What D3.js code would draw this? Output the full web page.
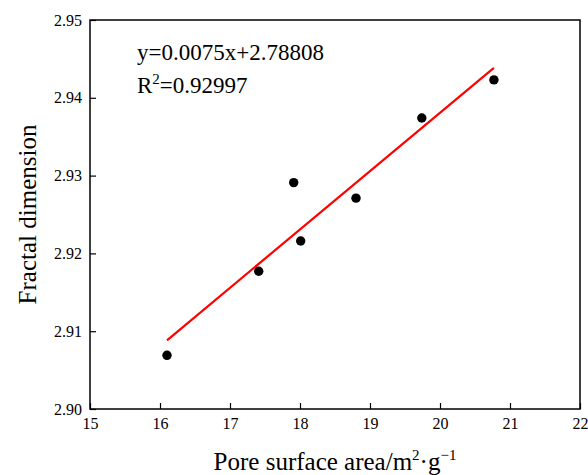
<!DOCTYPE html>
<html>
<head>
<meta charset="utf-8">
<script src="https://cdn.jsdelivr.net/npm/d3@7"></script>
<style>
  body { margin: 0; background: #fff; }
  text { font-family: "Liberation Serif", "Times New Roman", serif; fill: #000; }
</style>
</head>
<body>
<div id="chart"></div>
<script>
// data
const surfaceArea = [16.10, 17.41, 17.91, 18.01, 18.80, 19.74, 20.77];
const fractalDim = [2.9069, 2.9177, 2.9291, 2.9216, 2.9271, 2.9374, 2.9423];
const xTicks = [15, 16, 17, 18, 19, 20, 21, 22];
const yTicks = [2.90, 2.91, 2.92, 2.93, 2.94, 2.95];
const slope = 0.0075, intercept = 2.78808;

const W = 588, H = 475;
const margin = { top: 20, right: 8, bottom: 66, left: 90 },
  width = W - margin.left - margin.right,
  height = H - margin.top - margin.bottom;

const svg = d3.select("#chart").append("svg")
  .attr("width", W).attr("height", H);

const g = svg.append("g")
  .attr("transform", `translate(${margin.left},${margin.top})`);

const x = d3.scaleLinear().domain([15, 22]).range([0, width]);
const y = d3.scaleLinear().domain([2.90, 2.95]).range([height, 0]);

// axes, ticks pointing inward
const xAxis = g.append("g")
  .attr("transform", `translate(0,${height})`)
  .call(d3.axisBottom(x).tickValues(xTicks).tickSize(-6).tickPadding(9).tickFormat(d3.format("d")));
const yAxis = g.append("g")
  .call(d3.axisLeft(y).tickValues(yTicks).tickSize(-6).tickPadding(8).tickFormat(d3.format(".2f")));

[xAxis, yAxis].forEach(a => {
  a.attr("font-family", "Liberation Serif").attr("font-size", 16);
  a.select(".domain").remove();
  a.selectAll("line").attr("stroke", "#000").attr("stroke-width", 1.2);
  a.selectAll("text").attr("fill", "#000");
});

// frame
g.append("rect")
  .attr("width", width).attr("height", height)
  .attr("fill", "none").attr("stroke", "#000").attr("stroke-width", 1.5);

// fit line
const xs = d3.extent(surfaceArea);
g.append("line")
  .attr("x1", x(xs[0])).attr("y1", y(slope * xs[0] + intercept))
  .attr("x2", x(xs[1])).attr("y2", y(slope * xs[1] + intercept))
  .attr("stroke", "#ff0000").attr("stroke-width", 2.2);

// points
g.selectAll(".pt")
  .data(surfaceArea.map((d, i) => [d, fractalDim[i]]))
  .join("circle")
  .attr("class", "pt")
  .attr("cx", d => x(d[0]))
  .attr("cy", d => y(d[1]))
  .attr("r", 4.7)
  .attr("fill", "#000");

// equation
g.append("text").attr("x", 47).attr("y", 40).style("font-size", "23px")
  .text("y=0.0075x+2.78808");
const r2 = g.append("text").attr("x", 47).attr("y", 73).style("font-size", "23px");
r2.append("tspan").text("R");
r2.append("tspan").attr("dy", -9).style("font-size", "15px").text("2");
r2.append("tspan").attr("dy", 9).text("=0.92997");

// axis titles
const xt = svg.append("text")
  .attr("x", margin.left + width / 2).attr("y", 470)
  .attr("text-anchor", "middle").style("font-size", "25px");
xt.append("tspan").text("Pore surface area/m");
xt.append("tspan").attr("dy", -10).style("font-size", "15px").text("2");
xt.append("tspan").attr("dy", 10).text("\u00b7g");
xt.append("tspan").attr("dy", -10).style("font-size", "15px").text("\u22121");

svg.append("text")
  .attr("transform", `translate(36,${margin.top + height / 2}) rotate(-90)`)
  .attr("text-anchor", "middle").style("font-size", "25px")
  .text("Fractal dimension");
</script>
</body>
</html>
